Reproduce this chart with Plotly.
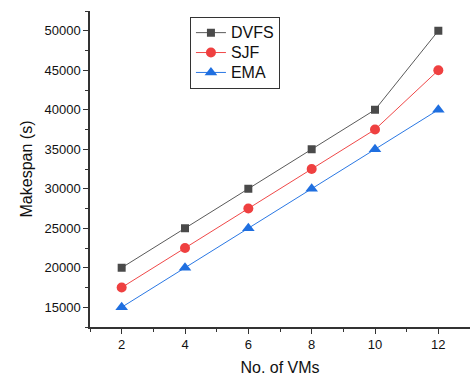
import plotly.graph_objects as go

vms = [2, 4, 6, 8, 10, 12]
dvfs = [20000, 25000, 30000, 35000, 40000, 50000]
sjf = [17500, 22500, 27500, 32500, 37500, 45000]
ema = [15000, 20000, 25000, 30000, 35000, 40000]

def big(s):
    return f'<span style="font-size:16px">{s}</span>'

fig = go.Figure()
fig.add_trace(go.Scatter(x=vms, y=dvfs, name=big("DVFS"), mode="lines+markers",
                         line=dict(color="#5a5a5a", width=1),
                         marker=dict(symbol="square", size=8, color="#4a4a4a")))
fig.add_trace(go.Scatter(x=vms, y=sjf, name=big("SJF"), mode="lines+markers",
                         line=dict(color="#f04848", width=1),
                         marker=dict(symbol="circle", size=10, color="#ef4040")))
fig.add_trace(go.Scatter(x=vms, y=ema, name=big("EMA"), mode="lines+markers",
                         line=dict(color="#2a78e4", width=1),
                         marker=dict(symbol="triangle-up", size=11, color="#1f6fe0")))

axis_common = dict(showline=True, linecolor="#333", linewidth=1.5, showgrid=False,
                   zeroline=False, ticks="outside", ticklen=5, tickwidth=1.2,
                   tickcolor="#333", tickfont=dict(family="Arial, Liberation Sans", size=13, color="#111"),
                   mirror=False)

fig.update_layout(
    width=470, height=376,
    margin=dict(l=90, r=0, t=11, b=49),
    paper_bgcolor="white", plot_bgcolor="white",
    xaxis=dict(range=[1, 13], tickvals=[2, 4, 6, 8, 10, 12],
               minor=dict(tickvals=[1, 3, 5, 7, 9, 11, 13], ticks="outside", ticklen=3, tickcolor="#333"),
               title=dict(text="No. of VMs", font=dict(family="Arial, Liberation Sans", size=16, color="#111"), standoff=10),
               **axis_common),
    yaxis=dict(range=[12500, 52500], tickvals=[15000, 20000, 25000, 30000, 35000, 40000, 45000, 50000],
               tickformat="d",
               minor=dict(tickvals=[12500, 17500, 22500, 27500, 32500, 37500, 42500, 47500, 52500],
                          ticks="outside", ticklen=3, tickcolor="#333"),
               title=dict(text="Makespan (s)", font=dict(family="Arial, Liberation Sans", size=16, color="#111"), standoff=8),
               **axis_common),
    legend=dict(x=0.263, y=0.982, xanchor="left", yanchor="top",
                bordercolor="#333", borderwidth=1, bgcolor="white",
                font=dict(family="Arial, Liberation Sans", size=13, color="#111"),
                tracegroupgap=0, itemwidth=30),
    showlegend=True,
)

fig.write_html("out.html")
